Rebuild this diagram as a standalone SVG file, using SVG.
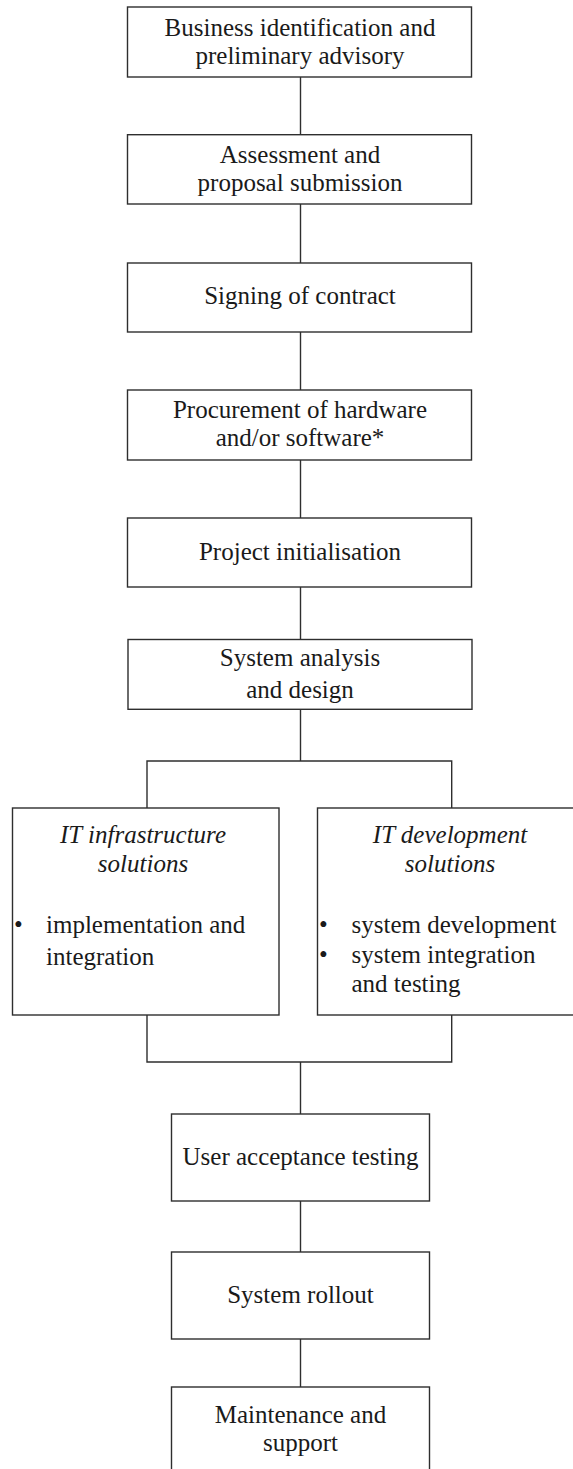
<svg xmlns="http://www.w3.org/2000/svg" width="573" height="1469" viewBox="0 0 573 1469">
  <style>
    .box { fill: #ffffff; stroke: #2e2e2e; stroke-width: 1.4; }
    .wire { fill: none; stroke: #2e2e2e; stroke-width: 1.4; }
    text { font-family: "Liberation Serif", "Times New Roman", serif; font-size: 25px; fill: #1a1a1a; }
    .c { text-anchor: middle; }
    .it { font-style: italic; }
  </style>
  <rect width="573" height="1469" fill="#ffffff"/>

  <!-- connectors -->
  <g id="connectors">
    <line class="wire" x1="300.5" y1="77" x2="300.5" y2="134.7"/>
    <line class="wire" x1="300.5" y1="204" x2="300.5" y2="263"/>
    <line class="wire" x1="300.5" y1="332" x2="300.5" y2="390"/>
    <line class="wire" x1="300.5" y1="460" x2="300.5" y2="518"/>
    <line class="wire" x1="300.5" y1="587" x2="300.5" y2="639.5"/>
    <line class="wire" x1="300.5" y1="709.3" x2="300.5" y2="761"/>
    <polyline class="wire" points="147,808 147,761 451.7,761 451.7,808"/>
    <polyline class="wire" points="147,1015 147,1062 451.7,1062 451.7,1015"/>
    <line class="wire" x1="300.5" y1="1062" x2="300.5" y2="1114"/>
    <line class="wire" x1="300.5" y1="1201" x2="300.5" y2="1252"/>
    <line class="wire" x1="300.5" y1="1339" x2="300.5" y2="1387"/>
  </g>

  <g id="n1">
    <rect class="box" x="127.5" y="7" width="344" height="70"/>
    <text class="c" x="300" y="36">Business identification and</text>
    <text class="c" x="300" y="64">preliminary advisory</text>
  </g>

  <g id="n2">
    <rect class="box" x="127.5" y="134.7" width="344" height="69.3"/>
    <text class="c" x="300" y="163">Assessment and</text>
    <text class="c" x="300" y="191">proposal submission</text>
  </g>

  <g id="n3">
    <rect class="box" x="127.5" y="263" width="344" height="69"/>
    <text class="c" x="300" y="304">Signing of contract</text>
  </g>

  <g id="n4">
    <rect class="box" x="127.5" y="390" width="344" height="70"/>
    <text class="c" x="300" y="418">Procurement of hardware</text>
    <text class="c" x="300" y="446">and/or software*</text>
  </g>

  <g id="n5">
    <rect class="box" x="127.5" y="518" width="344" height="69"/>
    <text class="c" x="300" y="560">Project initialisation</text>
  </g>

  <g id="n6">
    <rect class="box" x="128" y="639.5" width="344" height="69.8"/>
    <text class="c" x="300" y="666">System analysis</text>
    <text class="c" x="300" y="698">and design</text>
  </g>

  <g id="n7">
    <rect class="box" x="12.5" y="808" width="266.5" height="207"/>
    <text class="c it" x="143" y="843">IT infrastructure</text>
    <text class="c it" x="143" y="872">solutions</text>
    <text x="14" y="933">•</text>
    <text x="46" y="933">implementation and</text>
    <text x="46" y="965">integration</text>
  </g>

  <g id="n8">
    <rect class="box" x="317.5" y="808" width="267" height="207"/>
    <text class="c it" x="450" y="843">IT development</text>
    <text class="c it" x="450" y="872">solutions</text>
    <text x="319" y="933">•</text>
    <text x="351.5" y="933">system development</text>
    <text x="319" y="963">•</text>
    <text x="351.5" y="963">system integration</text>
    <text x="351.5" y="992">and testing</text>
  </g>

  <g id="n9">
    <rect class="box" x="171.5" y="1114" width="258" height="87"/>
    <text class="c" x="300.5" y="1165">User acceptance testing</text>
  </g>

  <g id="n10">
    <rect class="box" x="171.5" y="1252" width="258" height="87"/>
    <text class="c" x="300.5" y="1303">System rollout</text>
  </g>

  <g id="n11">
    <rect class="box" x="171.5" y="1387" width="258" height="95"/>
    <text class="c" x="300.5" y="1423">Maintenance and</text>
    <text class="c" x="300.5" y="1451">support</text>
  </g>
</svg>
